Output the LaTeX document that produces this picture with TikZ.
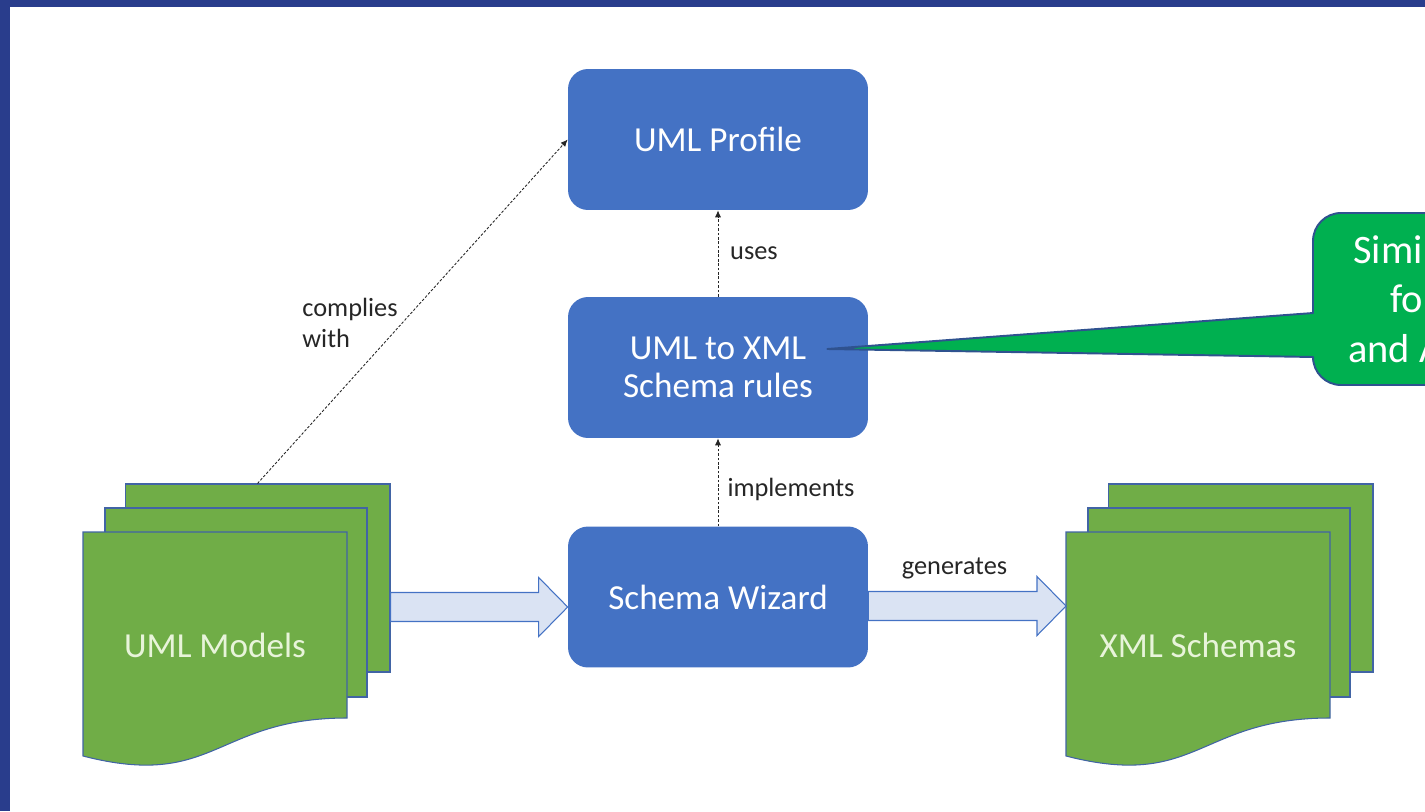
\documentclass[tikz,border=0pt]{standalone}
\usepackage{fontspec}
\setmainfont{Carlito}
\usetikzlibrary{calc,arrows.meta}

\definecolor{frameBlue}{RGB}{41,61,140}
\definecolor{boxBlue}{RGB}{68,114,196}
\definecolor{docGreen}{RGB}{112,173,71}
\definecolor{docLine}{RGB}{65,100,165}
\definecolor{arrowFill}{RGB}{218,227,243}
\definecolor{noteGreen}{RGB}{0,176,80}
\definecolor{noteLine}{RGB}{47,82,143}
\definecolor{labelGray}{RGB}{38,38,38}
\definecolor{docText}{RGB}{232,244,218}

\begin{document}
\begin{tikzpicture}[x=0.02cm,y=-0.02cm,
  rulebox/.style={fill=boxBlue,rounded corners=0.4cm,minimum width=6cm,minimum height=2.82cm,
    text=white,align=center,font=\fontsize{20}{22}\selectfont},
  sheet/.style={fill=docGreen,draw=docLine,line width=0.6pt},
  doclabel/.style={text=docText,font=\fontsize{20}{24}\selectfont},
  dep/.style={draw=labelGray,line width=0.5pt,dash pattern=on 1.5pt off 1pt,-{Latex[length=4pt,width=3.5pt]}},
  deplabel/.style={text=labelGray,align=left,font=\fontsize{15}{17.6}\selectfont},
  fatarrow/.style={fill=arrowFill,draw=boxBlue,line width=0.6pt},
  notetext/.style={text=white,anchor=base west,inner sep=0pt,font=\fontsize{23}{28}\selectfont}]
   \newcommand{\docStack}[3]{
     % #1 name, #2 left x of front sheet, #3 text
     \node[sheet,minimum width=5.3cm,minimum height=3.76cm] (#1back) at (#2+174.5,578) {};
     \path[sheet] (#2+22,508) rectangle (#2+284,697);
     \path[sheet] (#2,532) -- (#2+264,532) -- (#2+264,718)
        .. controls (#2+132,718) and (#2+132,790) .. (#2,756) -- cycle;
     \coordinate (#1front) at (#2,578);
     \node[doclabel] (#1) at (#2+132,645) {#3};
   }
   \newcommand{\fatArrow}[2]{
     \path[fatarrow] ($(#1)+(0,-14.5)$) -- ($(#2)+(-29,-14.5)$) -- ($(#2)+(-29,-29.5)$) -- (#2)
        -- ($(#2)+(-29,29.5)$) -- ($(#2)+(-29,14.5)$) -- ($(#1)+(0,14.5)$) -- cycle;
   }
  \useasboundingbox (0,0) rectangle (1425,811);
  \clip (0,0) rectangle (1425,811);
  \fill[frameBlue] (0,0) rectangle (1425,7);
  \fill[frameBlue] (0,0) rectangle (10,811);

  \node[rulebox] (profile) at (718,139.5) {UML Profile};
  \node[rulebox] (rules) at (718,367.5) {UML to XML\\Schema rules};
  \node[rulebox] (wizard) at (718,597) {Schema Wizard};

  \docStack{uml}{83}{UML Models}
  \docStack{xml}{1066}{XML Schemas}

  \draw[dep] (rules.north) -- (profile.south);
  \draw[dep] (wizard.north) -- (rules.south);
  \draw[dep] (umlback.north) -- (profile.west);
  \node[deplabel] (usesLbl) at (754,253) {uses};
  \node[deplabel] (implLbl) at (791,489) {implements};
  \node[deplabel] (genLbl) at (954.5,568) {generates};
  \node[deplabel] (compLbl) at (350,323) {complies\\with};

  \coordinate (modelsOut) at ($(umlback.east)+(0,29)$);
  \coordinate (wizardIn) at (wizard.west |- modelsOut);
  \coordinate (wizardOut) at ($(wizard.east)+(0,9)$);
  \coordinate (schemasIn) at (xmlfront |- wizardOut);
  \fatArrow{modelsOut}{wizardIn}
  \fatArrow{wizardOut}{schemasIn}

  % callout
  \coordinate (noteTip) at ($(rules.east)+(-41,-18.5)$);
  \path[fill=noteGreen,draw=noteLine,line width=1.1pt,line join=round] (noteTip) -- (1313,313) -- (1313,241)
     arc[start angle=180,end angle=270,radius=28] -- (1540,213) -- (1540,385) -- (1341,385)
     arc[start angle=90,end angle=180,radius=28] -- cycle;
  \node[notetext] (noteA) at (1353,263) {Simi};
  \node[notetext] (noteB) at (1390,312) {fo};
  \node[notetext] (noteC) at (1348,362) {and A};
\end{tikzpicture}
\end{document}
